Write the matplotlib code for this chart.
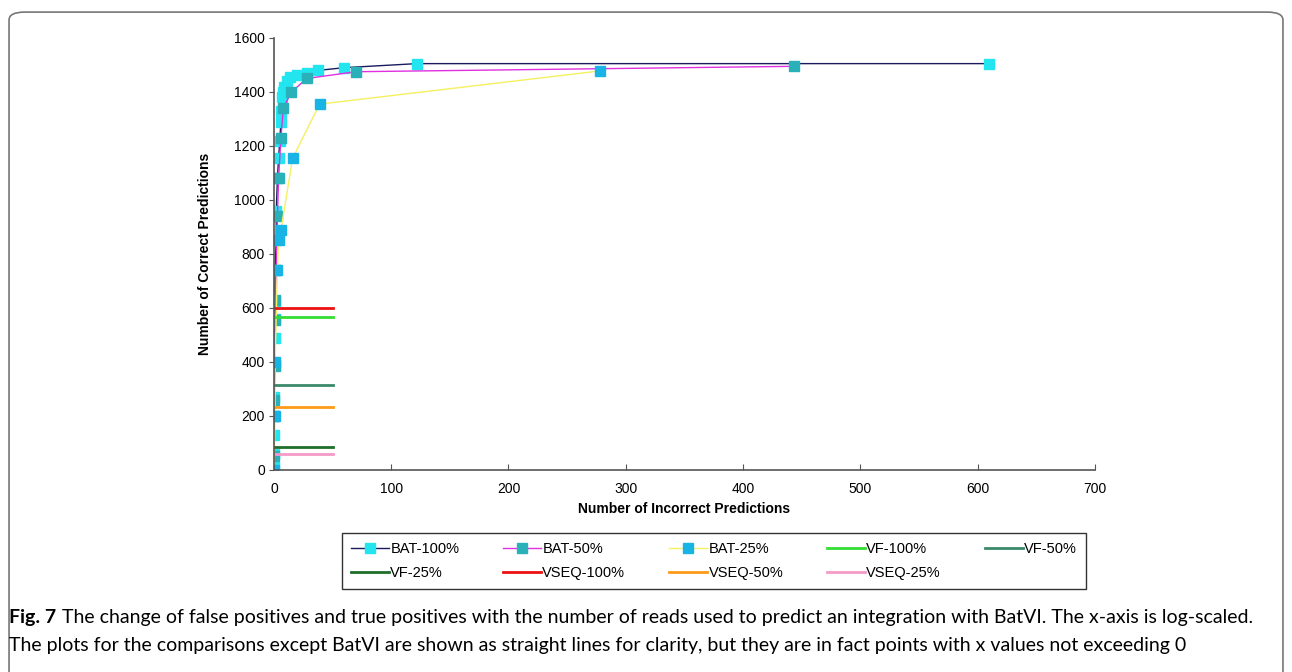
import matplotlib.pyplot as plt
from matplotlib.patches import FancyBboxPatch

plt.rcParams['font.family'] = ['Liberation Sans', 'DejaVu Sans']

# BatVI curves (x = incorrect, y = correct)
bat100_x = [0, 0, 0, 0, 0, 1, 1, 1, 1, 1, 2, 2, 3, 3, 4, 5, 6, 6, 7, 8, 9, 11, 14, 20, 28, 38, 60, 122, 610]
bat100_y = [10, 60, 130, 200, 270, 390, 490, 560, 625, 740, 850, 960, 1080, 1080, 1155, 1220, 1290, 1330, 1380, 1400, 1420, 1440, 1455, 1462, 1470, 1480, 1490, 1505, 1505]
bat50_x = [0, 0, 0, 1, 1, 1, 2, 3, 4, 6, 8, 15, 28, 70, 443]
bat50_y = [50, 200, 260, 385, 555, 630, 740, 940, 1080, 1230, 1340, 1400, 1450, 1475, 1495]
bat25_x = [0, 1, 1, 3, 4, 6, 16, 39, 278]
bat25_y = [0, 200, 400, 740, 850, 890, 1155, 1355, 1478]

# other tools, drawn as flat lines
flat_x = [0, 50]
vf100 = 565
vf50 = 315
vf25 = 85
vseq100 = 600
vseq50 = 233
vseq25 = 60

fig = plt.figure(figsize=(12.92, 6.72), dpi=100)
fig.patches.append(FancyBboxPatch((0.007, -0.05), 0.986, 1.032, boxstyle="round,pad=0,rounding_size=0.012",
                                  transform=fig.transFigure, fill=False, edgecolor='#777777', linewidth=1.2))
ax = fig.add_axes([0.212, 0.3006, 0.6355, 0.6429])

h = []
h.append(ax.plot(bat100_x, bat100_y, '-s', color='#1a1a5e', lw=1.0, ms=7, mfc='#22e5f0', mec='#22e5f0', label='BAT-100%')[0])
h.append(ax.plot(bat50_x, bat50_y, '-s', color='#e030e0', lw=1.0, ms=7, mfc='#2ab0b8', mec='#2ab0b8', label='BAT-50%')[0])
h.append(ax.plot(bat25_x, bat25_y, '-s', color='#f5f060', lw=1.0, ms=7, mfc='#18b4e6', mec='#18b4e6', label='BAT-25%')[0])
h.append(ax.plot(flat_x, [vf100] * 2, color='#33dd33', lw=2, label='VF-100%')[0])
h.append(ax.plot(flat_x, [vf50] * 2, color='#3a8a6a', lw=2, label='VF-50%')[0])
h.append(ax.plot(flat_x, [vf25] * 2, color='#1f6e2a', lw=2, label='VF-25%')[0])
h.append(ax.plot(flat_x, [vseq100] * 2, color='#ee1111', lw=2, label='VSEQ-100%')[0])
h.append(ax.plot(flat_x, [vseq50] * 2, color='#ff9a1a', lw=2, label='VSEQ-50%')[0])
h.append(ax.plot(flat_x, [vseq25] * 2, color='#f59ac8', lw=2, label='VSEQ-25%')[0])

ax.set_xlim(0, 700)
ax.set_ylim(0, 1600)
ax.set_xticks(range(0, 701, 100))
ax.set_yticks(range(0, 1601, 200))
for s in ['top', 'right']:
    ax.spines[s].set_visible(False)
for s in ['left', 'bottom']:
    ax.spines[s].set_color('#555555')
    ax.spines[s].set_linewidth(1.2)
ax.tick_params(axis='x', direction='in', length=4, color='#555555', labelsize=10, pad=9)
ax.tick_params(axis='y', direction='out', length=3.5, color='#555555', labelsize=10, pad=3)
ax.set_xlabel('Number of Incorrect Predictions', fontsize=10, fontweight='bold', labelpad=4)
ax.set_ylabel('Number of Correct Predictions', fontsize=10, fontweight='bold', labelpad=16)

order = [0, 5, 1, 6, 2, 7, 3, 8, 4]
leg = fig.legend([h[i] for i in order], [h[i].get_label() for i in order], ncol=5,
                 loc='center', bbox_to_anchor=(0.5526, 0.165), fontsize=10.5, frameon=True,
                 fancybox=False, edgecolor='black', handlelength=2.6, handletextpad=0.1,
                 columnspacing=3.0, borderpad=0.6, labelspacing=0.7)
leg.get_frame().set_linewidth(1.0)

fig.text(0.007, 0.081, 'Fig. 7', fontsize=14, family='Lato', fontweight='bold', va='center')
fig.text(0.048, 0.081, 'The change of false positives and true positives with the number of reads used to predict an integration with BatVI. The x-axis is log-scaled.',
         fontsize=14, family='Lato', va='center')
fig.text(0.007, 0.040, 'The plots for the comparisons except BatVI are shown as straight lines for clarity, but they are in fact points with x values not exceeding 0',
         fontsize=14, family='Lato', va='center')

fig.savefig('out.png', dpi=100)
